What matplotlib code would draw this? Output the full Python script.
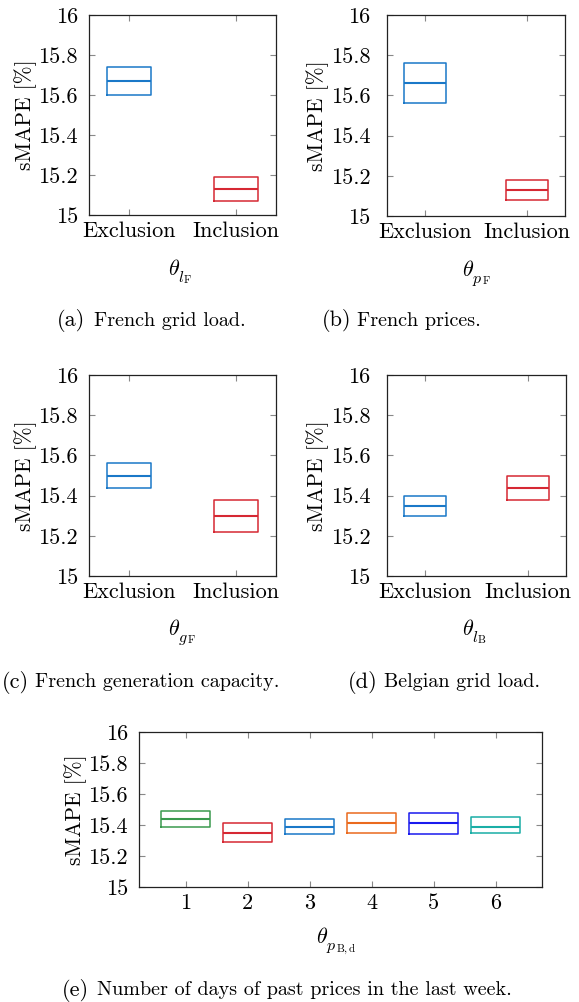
import matplotlib
matplotlib.use("Agg")
import matplotlib.pyplot as plt

plt.rcParams['font.family'] = 'cmr10'
plt.rcParams['mathtext.fontset'] = 'cm'
plt.rcParams['axes.unicode_minus'] = False
plt.rcParams['axes.formatter.use_mathtext'] = True

W, H = 579, 1002

# ---- data: (q1, median, q3) per box ----
cats_ab = ["Exclusion", "Inclusion"]
a_q1 = [15.60, 15.07]; a_med = [15.67, 15.13]; a_q3 = [15.74, 15.19]
b_q1 = [15.56, 15.08]; b_med = [15.66, 15.13]; b_q3 = [15.76, 15.18]
c_q1 = [15.44, 15.22]; c_med = [15.50, 15.30]; c_q3 = [15.56, 15.38]
d_q1 = [15.30, 15.38]; d_med = [15.35, 15.44]; d_q3 = [15.40, 15.50]
cats_e = ["1", "2", "3", "4", "5", "6"]
e_q1 = [15.39, 15.29, 15.34, 15.35, 15.34, 15.35]
e_med = [15.44, 15.35, 15.39, 15.415, 15.41, 15.39]
e_q3 = [15.49, 15.41, 15.44, 15.48, 15.48, 15.45]

yticks = [15, 15.2, 15.4, 15.6, 15.8, 16]
ytick_labels = ["15", "15.2", "15.4", "15.6", "15.8", "16"]

col_ab = ["#1a78c8", "#d62833"]
col_e = ["#3a9a4e", "#d62833", "#1a78c8", "#ea6a1e", "#1a1aee", "#1aaea6"]

fig = plt.figure(figsize=(W / 100, H / 100), dpi=100)
PT = 72 / 100  # points per pixel


def add_ax(l, r, t, b):
    return fig.add_axes([l / W, 1 - b / H, (r - l) / W, (b - t) / H])


def theta_label(ax, sub1, sub2, dx_px, dy_px):
    t0 = ax.annotate(r"$\theta$", xy=(0.5, 0), xycoords='axes fraction',
                     xytext=(dx_px * PT, -dy_px * PT), textcoords='offset points',
                     ha='left', va='baseline', fontsize=16)
    t1 = ax.annotate(r"$%s$" % sub1, xy=(1, 0), xycoords=t0,
                     xytext=(-1.2, -2.3), textcoords='offset points',
                     ha='left', va='baseline', fontsize=11.5)
    ax.annotate(r"$\mathrm{%s}$" % sub2, xy=(1, 0), xycoords=(t1, t0),
                xytext=(-0.6, -3.2), textcoords='offset points',
                ha='left', va='baseline', fontsize=8)


def draw(ax, cats, q1, med, q3, colors, width, xlim, ypad):
    stats = []
    for i in range(len(cats)):
        stats.append(dict(q1=q1[i], med=med[i], q3=q3[i], whislo=q1[i],
                          whishi=q3[i], fliers=[], label=cats[i]))
    pos = list(range(1, len(cats) + 1))
    bp = ax.bxp(stats, positions=pos, widths=width, showcaps=False,
                showfliers=False, patch_artist=False)
    for i, c in enumerate(colors):
        bp['boxes'][i].set_color(c)
        bp['boxes'][i].set_linewidth(1.1)
        bp['medians'][i].set_color(c)
        bp['medians'][i].set_linewidth(1.5)
        for w in bp['whiskers'][2 * i:2 * i + 2]:
            w.set_color(c)
    ax.set_xlim(*xlim)
    ax.set_ylim(15, 16)
    ax.set_yticks(yticks)
    ax.set_yticklabels(ytick_labels)
    ax.set_xticks(pos)
    ax.set_xticklabels(cats)
    ax.tick_params(direction='in', length=4.5, width=0.8, color='#888888',
                   top=True, right=True, labelsize=16)
    ax.tick_params(axis='y', pad=ypad)
    ax.tick_params(axis='x', pad=5)
    for s in ax.spines.values():
        s.set_linewidth(0.9)
        s.set_color('#222222')
    ax.set_ylabel("sMAPE [%]", fontsize=15.5, labelpad=1)


ax_a = add_ax(89, 276, 15, 215)
draw(ax_a, cats_ab, a_q1, a_med, a_q3, col_ab, 0.41, (0.626, 2.374), 8)
theta_label(ax_a, "l", "F", -15, 60)
ax_b = add_ax(387, 565, 15, 216)
draw(ax_b, cats_ab, b_q1, b_med, b_q3, col_ab, 0.41, (0.626, 2.374), 12)
theta_label(ax_b, "p", "F", -14, 60)
ax_c = add_ax(89, 276, 375, 576)
draw(ax_c, cats_ab, c_q1, c_med, c_q3, col_ab, 0.41, (0.626, 2.374), 8)
theta_label(ax_c, "g", "F", -15, 59)
ax_d = add_ax(387, 566, 375, 576)
draw(ax_d, cats_ab, d_q1, d_med, d_q3, col_ab, 0.41, (0.626, 2.374), 12)
theta_label(ax_d, "l", "B", -15, 59)
ax_e = add_ax(139, 542, 732, 887)
draw(ax_e, cats_e, e_q1, e_med, e_q3, col_e, 0.8, (0.25, 6.75), 8)
theta_label(ax_e, "p", "B,d", -25, 56)


def caption(x_tag, x_body, yc, tag, text):
    fig.text(x_tag / W, 1 - yc / H, tag, ha='left', va='center', fontsize=16)
    fig.text(x_body / W, 1 - yc / H, text, ha='left', va='center',
             fontsize=14.5)


caption(57, 94, 321, "(a)", "French grid load.")
caption(322, 357, 321, "(b)", "French prices.")
caption(2, 35, 682, "(c)", "French generation capacity.")
caption(348, 384, 682, "(d)", "Belgian grid load.")
caption(62, 97, 990, "(e)", "Number of days of past prices in the last week.")

fig.savefig("out.png", dpi=100)
